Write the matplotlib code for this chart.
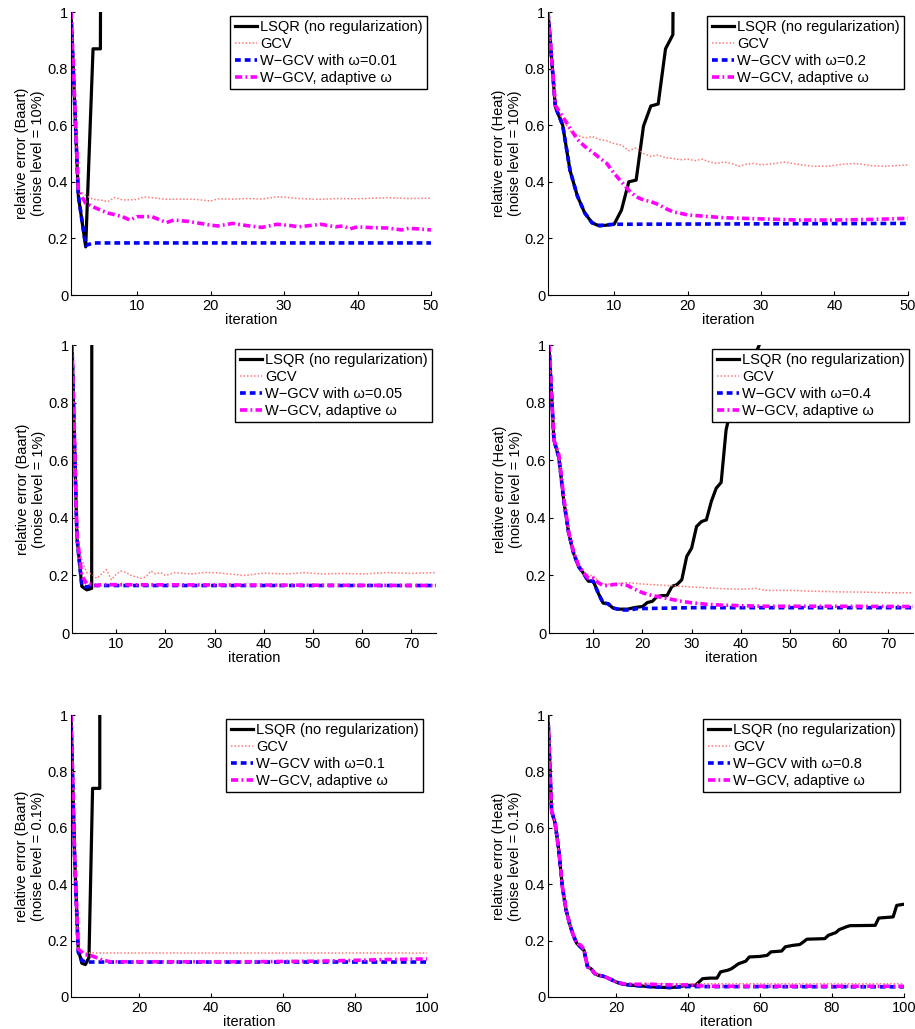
import matplotlib
matplotlib.use("Agg")
import matplotlib.pyplot as plt

plt.rcParams['font.family'] = ['Liberation Sans', 'DejaVu Sans']

# ---- Baart, noise 10% ----
a_lsqr_x = [1, 2, 3, 4, 5, 6]
a_lsqr_y = [1.0, 0.35, 0.17, 0.87, 0.87, 9.0]
a_gcv_x = [1, 2, 3, 4, 5, 6, 7, 8, 9, 10, 11, 12, 14, 16, 18, 20, 21, 23, 25, 27, 29, 30, 32, 35, 37, 40, 42, 44, 47, 50]
a_gcv_y = [1.0, 0.37, 0.353, 0.338, 0.336, 0.33, 0.345, 0.336, 0.336, 0.338, 0.347, 0.344, 0.338, 0.339, 0.338,
           0.332, 0.34, 0.339, 0.341, 0.339, 0.347, 0.346, 0.341, 0.338, 0.341, 0.34, 0.342, 0.344, 0.341, 0.342]
a_wgcv_x = [1, 2, 3, 4, 50]
a_wgcv_y = [1.0, 0.35, 0.175, 0.184, 0.184]
a_adapt_x = [1, 2, 3, 5, 6, 8, 9, 10, 12, 14, 15, 17, 20, 21, 23, 25, 27, 29, 31, 32, 35, 37, 38, 39, 40, 42, 44, 46, 47, 50]
a_adapt_y = [1.0, 0.37, 0.324, 0.30, 0.29, 0.277, 0.265, 0.277, 0.277, 0.256, 0.265, 0.26, 0.247, 0.244, 0.253,
             0.245, 0.239, 0.25, 0.245, 0.241, 0.25, 0.241, 0.244, 0.234, 0.241, 0.238, 0.237, 0.23, 0.236, 0.23]

# ---- Heat, noise 10% ----
b_lsqr_x = list(range(1, 20))
b_lsqr_y = [1.0, 0.665, 0.60, 0.44, 0.35, 0.29, 0.255, 0.244, 0.247, 0.25, 0.30, 0.40, 0.406, 0.597, 0.668,
            0.675, 0.87, 0.92, 6.0]
b_gcv_x = list(range(1, 31)) + [32, 33, 35, 37, 39, 41, 43, 45, 47, 50]
b_gcv_y = [1.0, 0.67, 0.62, 0.58, 0.565, 0.555, 0.56, 0.55, 0.545, 0.535, 0.53, 0.51, 0.52, 0.50, 0.49,
           0.495, 0.485, 0.483, 0.478, 0.48, 0.475, 0.48, 0.47, 0.465, 0.47, 0.465, 0.455, 0.462, 0.465, 0.46,
           0.465, 0.47, 0.462, 0.455, 0.455, 0.462, 0.465, 0.457, 0.455, 0.46]
b_wgcv_x = list(range(1, 11)) + [50]
b_wgcv_y = [1.0, 0.665, 0.60, 0.44, 0.35, 0.29, 0.255, 0.246, 0.248, 0.25, 0.253]
b_adapt_x = list(range(1, 21)) + [22, 25, 30, 35, 40, 45, 50]
b_adapt_y = [1.0, 0.67, 0.63, 0.59, 0.55, 0.525, 0.506, 0.485, 0.465, 0.43, 0.40, 0.37, 0.347, 0.336, 0.33,
             0.32, 0.306, 0.294, 0.289, 0.283, 0.279, 0.273, 0.269, 0.265, 0.265, 0.267, 0.271]

# ---- Baart, noise 1% ----
c_lsqr_x = [1, 2, 3, 4, 5, 6]
c_lsqr_y = [1.0, 0.335, 0.162, 0.150, 0.155, 40.0]
c_gcv_x = list(range(1, 21)) + [22, 25, 28, 30, 33, 36, 40, 45, 48, 52, 56, 60, 65, 70, 75]
c_gcv_y = [1.0, 0.34, 0.254, 0.21, 0.205, 0.19, 0.205, 0.22, 0.185, 0.205, 0.215, 0.21, 0.20, 0.195, 0.19,
           0.195, 0.215, 0.205, 0.21, 0.20, 0.21, 0.205, 0.21, 0.21, 0.205, 0.20, 0.208, 0.205, 0.21, 0.205,
           0.207, 0.205, 0.21, 0.207, 0.21]
c_wgcv_x = [1, 2, 3, 4, 5, 75]
c_wgcv_y = [1.0, 0.33, 0.165, 0.16, 0.165, 0.165]
c_adapt_x = [1, 2, 3, 4, 5, 6, 7, 75]
c_adapt_y = [1.0, 0.34, 0.2, 0.17, 0.17, 0.165, 0.168, 0.165]

# ---- Heat, noise 1% ----
d_lsqr_x = list(range(1, 46))
d_lsqr_y = [1.0, 0.67, 0.61, 0.46, 0.347, 0.277, 0.231, 0.208, 0.18, 0.18, 0.139, 0.104, 0.102, 0.087, 0.083,
            0.083, 0.083, 0.087, 0.09, 0.092, 0.106, 0.11, 0.127, 0.13, 0.13, 0.162, 0.168, 0.185, 0.266, 0.295,
            0.37, 0.387, 0.393, 0.457, 0.503, 0.523, 0.705, 0.78, 0.83, 0.87, 0.9, 0.94, 0.97, 1.01, 1.05]
d_gcv_x = list(range(1, 16)) + [17, 20, 25, 30, 35, 40, 43, 45, 50, 55, 60, 65, 70, 75]
d_gcv_y = [1.0, 0.67, 0.62, 0.47, 0.36, 0.29, 0.245, 0.215, 0.2, 0.2, 0.18, 0.17, 0.17, 0.17, 0.172,
           0.175, 0.17, 0.165, 0.16, 0.155, 0.152, 0.155, 0.148, 0.148, 0.145, 0.143, 0.142, 0.14, 0.14]
d_wgcv_x = list(range(1, 21)) + [30, 40, 50, 60, 75]
d_wgcv_y = [1.0, 0.67, 0.61, 0.46, 0.347, 0.277, 0.231, 0.208, 0.18, 0.18, 0.139, 0.104, 0.102, 0.087, 0.083,
            0.08, 0.08, 0.082, 0.085, 0.085, 0.088, 0.088, 0.088, 0.088, 0.088]
d_adapt_x = list(range(1, 21)) + [22, 25, 28, 30, 33, 36, 40, 45, 50, 60, 75]
d_adapt_y = [1.0, 0.67, 0.62, 0.47, 0.35, 0.28, 0.235, 0.21, 0.19, 0.19, 0.175, 0.165, 0.165, 0.168, 0.17,
             0.168, 0.165, 0.155, 0.148, 0.14, 0.13, 0.12, 0.11, 0.105, 0.1, 0.097, 0.095, 0.093, 0.093, 0.093,
             0.092]

# ---- Baart, noise 0.1% ----
e_lsqr_x = list(range(1, 11))
e_lsqr_y = [1.0, 0.5, 0.17, 0.12, 0.115, 0.14, 0.74, 0.74, 0.74, 40.0]
e_gcv_x = [1, 2, 3, 4, 5, 100]
e_gcv_y = [1.0, 0.5, 0.17, 0.16, 0.156, 0.156]
e_wgcv_x = [1, 2, 3, 4, 5, 100]
e_wgcv_y = [1.0, 0.5, 0.16, 0.13, 0.124, 0.124]
e_adapt_x = [1, 2, 3, 4, 5, 6, 7, 8, 9, 10, 12, 20, 50, 70, 80, 90, 100]
e_adapt_y = [1.0, 0.5, 0.17, 0.16, 0.15, 0.148, 0.145, 0.14, 0.135, 0.13, 0.125, 0.125, 0.125, 0.127, 0.13,
             0.133, 0.135]

# ---- Heat, noise 0.1% ----
f_early = [1.0, 0.66, 0.615, 0.52, 0.39, 0.31, 0.26, 0.22, 0.19, 0.178, 0.166, 0.107, 0.1, 0.083, 0.077,
           0.075, 0.071, 0.065, 0.059, 0.053]
f_lsqr_x = list(range(1, 21)) + [22, 25, 30, 35, 38, 40, 42, 43, 44, 46, 48, 49, 51, 52, 54, 56, 57, 60, 62, 63,
                                 66, 67, 69, 71, 72, 73, 78, 79, 81, 82, 84, 85, 92, 93, 97, 98, 100]
f_lsqr_y = f_early + [0.045, 0.041, 0.036, 0.033, 0.038, 0.041, 0.041, 0.053, 0.065, 0.067, 0.067, 0.089, 0.095,
                      0.1, 0.118, 0.127, 0.142, 0.144, 0.148, 0.16, 0.163, 0.178, 0.183, 0.186, 0.195, 0.205,
                      0.207, 0.219, 0.228, 0.239, 0.249, 0.253, 0.254, 0.28, 0.284, 0.325, 0.329]
f_gcv_x = list(range(1, 21)) + [22, 25, 30, 100]
f_gcv_y = f_early + [0.046, 0.047, 0.047, 0.047]
f_wgcv_x = list(range(1, 21)) + [22, 25, 30, 35, 40, 100]
f_wgcv_y = f_early + [0.045, 0.041, 0.036, 0.034, 0.037, 0.036]
f_adapt_x = list(range(1, 21)) + [22, 25, 30, 35, 40, 45, 100]
f_adapt_y = f_early[:9] + [0.185, 0.17] + f_early[11:] + [0.047, 0.045, 0.045, 0.043, 0.043, 0.038, 0.038]

yticks = [0, 0.2, 0.4, 0.6, 0.8, 1]
ytick_labels = ['0', '0.2', '0.4', '0.6', '0.8', '1']


def draw_panel(pos, lsqr, gcv, wgcv, adapt, omega, problem, noise, xmax, xticks):
    ax = fig.add_axes(pos)
    ax.plot(lsqr[0], lsqr[1], color='black', lw=2.3, label='LSQR (no regularization)')
    ax.plot(gcv[0], gcv[1], color='#ff7a7a', lw=1.1, dashes=(1.0, 1.3), label='GCV')
    ax.plot(wgcv[0], wgcv[1], color='#0000ff', lw=2.6, dashes=(1.6, 1.1),
            label='W\u2212GCV with \u03c9=' + omega)
    ax.plot(adapt[0], adapt[1], color='#ff00ff', lw=2.6, dashes=(2.0, 0.9, 0.5, 0.9),
            label='W\u2212GCV, adaptive \u03c9')
    ax.set_xlim(1, xmax)
    ax.set_ylim(0, 1)
    ax.set_xticks(xticks)
    ax.set_yticks(yticks)
    ax.set_yticklabels(ytick_labels)
    ax.spines['top'].set_visible(False)
    ax.spines['right'].set_visible(False)
    ax.tick_params(direction='in', length=3, labelsize=10.5)
    ax.tick_params(axis='x', pad=3)
    ax.tick_params(axis='y', pad=2)
    ax.set_xlabel('iteration', fontsize=10.5, labelpad=0)
    ax.set_ylabel('relative error (' + problem + ')\n(noise level = ' + noise + ')', fontsize=10.5, labelpad=2)
    leg = ax.legend(loc='upper right', fontsize=10.5, fancybox=False, edgecolor='black',
                    framealpha=1, borderaxespad=0.25, handlelength=1.5, handletextpad=0.25,
                    labelspacing=0.2, borderpad=0.3)
    leg.get_frame().set_linewidth(1.0)
    return ax


fig = plt.figure(figsize=(9.15, 10.29), dpi=100)

draw_panel([0.0776, 0.7133, 0.3934, 0.2750], (a_lsqr_x, a_lsqr_y), (a_gcv_x, a_gcv_y), (a_wgcv_x, a_wgcv_y),
           (a_adapt_x, a_adapt_y), '0.01', 'Baart', '10%', 50, [10, 20, 30, 40, 50])
draw_panel([0.5989, 0.7133, 0.3934, 0.2750], (b_lsqr_x, b_lsqr_y), (b_gcv_x, b_gcv_y), (b_wgcv_x, b_wgcv_y),
           (b_adapt_x, b_adapt_y), '0.2', 'Heat', '10%', 50, [10, 20, 30, 40, 50])
draw_panel([0.0787, 0.3848, 0.3978, 0.2799], (c_lsqr_x, c_lsqr_y), (c_gcv_x, c_gcv_y), (c_wgcv_x, c_wgcv_y),
           (c_adapt_x, c_adapt_y), '0.05', 'Baart', '1%', 75, [10, 20, 30, 40, 50, 60, 70])
draw_panel([0.6000, 0.3848, 0.3978, 0.2799], (d_lsqr_x, d_lsqr_y), (d_gcv_x, d_gcv_y), (d_wgcv_x, d_wgcv_y),
           (d_adapt_x, d_adapt_y), '0.4', 'Heat', '1%', 75, [10, 20, 30, 40, 50, 60, 70])
draw_panel([0.0776, 0.0311, 0.3890, 0.2740], (e_lsqr_x, e_lsqr_y), (e_gcv_x, e_gcv_y), (e_wgcv_x, e_wgcv_y),
           (e_adapt_x, e_adapt_y), '0.1', 'Baart', '0.1%', 100, [20, 40, 60, 80, 100])
draw_panel([0.5989, 0.0311, 0.3890, 0.2740], (f_lsqr_x, f_lsqr_y), (f_gcv_x, f_gcv_y), (f_wgcv_x, f_wgcv_y),
           (f_adapt_x, f_adapt_y), '0.8', 'Heat', '0.1%', 100, [20, 40, 60, 80, 100])

fig.savefig('out.png', dpi=100)
